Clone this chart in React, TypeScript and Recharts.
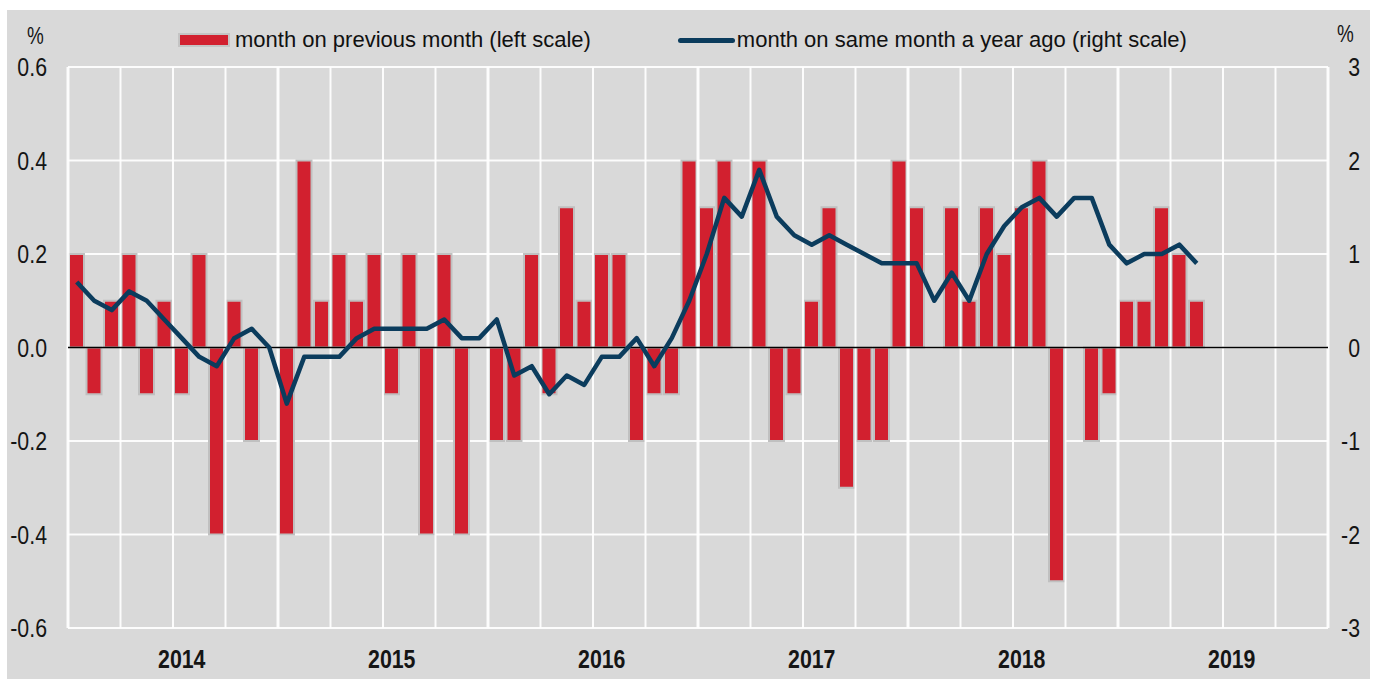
import {
  ComposedChart,
  Bar,
  Line,
  XAxis,
  YAxis,
  CartesianGrid,
  ReferenceLine,
  Legend,
} from 'recharts';

const years = ['2014', '2015', '2016', '2017', '2018', '2019'];
const monthNames = ['Jan', 'Feb', 'Mar', 'Apr', 'May', 'Jun', 'Jul', 'Aug', 'Sep', 'Oct', 'Nov', 'Dec'];

// month on previous month, % (left scale), Jan 2014 - May 2019
const monthOnMonth = [
  0.2, -0.1, 0.1, 0.2, -0.1, 0.1, -0.1, 0.2, -0.4, 0.1, -0.2, 0,
  -0.4, 0.4, 0.1, 0.2, 0.1, 0.2, -0.1, 0.2, -0.4, 0.2, -0.4, 0,
  -0.2, -0.2, 0.2, -0.1, 0.3, 0.1, 0.2, 0.2, -0.2, -0.1, -0.1, 0.4,
  0.3, 0.4, 0, 0.4, -0.2, -0.1, 0.1, 0.3, -0.3, -0.2, -0.2, 0.4,
  0.3, 0, 0.3, 0.1, 0.3, 0.2, 0.3, 0.4, -0.5, 0, -0.2, -0.1,
  0.1, 0.1, 0.3, 0.2, 0.1,
];

// month on same month a year ago, % (right scale)
const yearOnYear = [
  0.7, 0.5, 0.4, 0.6, 0.5, 0.3, 0.1, -0.1, -0.2, 0.1, 0.2, 0.0,
  -0.6, -0.1, -0.1, -0.1, 0.1, 0.2, 0.2, 0.2, 0.2, 0.3, 0.1, 0.1,
  0.3, -0.3, -0.2, -0.5, -0.3, -0.4, -0.1, -0.1, 0.1, -0.2, 0.1, 0.5,
  1.0, 1.6, 1.4, 1.9, 1.4, 1.2, 1.1, 1.2, 1.1, 1.0, 0.9, 0.9,
  0.9, 0.5, 0.8, 0.5, 1.0, 1.3, 1.5, 1.6, 1.4, 1.6, 1.6, 1.1,
  0.9, 1.0, 1.0, 1.1, 0.9,
];

const leftTicks = [-0.6, -0.4, -0.2, 0, 0.2, 0.4, 0.6];
const rightTicks = [-3, -2, -1, 0, 1, 2, 3];

const data = years.flatMap((y, yi) =>
  monthNames.map((m, mi) => {
    const i = yi * 12 + mi;
    return {
      month: `${m} ${y}`,
      mom: i < monthOnMonth.length ? monthOnMonth[i] : null,
      yoy: i < yearOnYear.length ? yearOnYear[i] : null,
    };
  })
);

// quarter starts get a white grid line, year starts a thicker one
const quarterStarts = data.filter((_, i) => i % 3 === 0).map((d) => d.month);
const lastMonth = data[data.length - 1].month;
// year label goes under July
const midYearTicks = data.filter((_, i) => i % 12 === 6).map((d) => d.month);

const RED = '#d2202f';
const NAVY = '#0b3c5d';
const SANS = '"Liberation Sans", Arial, sans-serif';
// no Arial Narrow here, so squeeze Liberation Sans instead
const SQUEEZE = 0.82;

function NarrowText({ x, y, anchor, dy, bold, children }: any) {
  return (
    <text
      transform={`translate(${x} ${y}) scale(${SQUEEZE} 1)`}
      dy={dy}
      textAnchor={anchor}
      fontFamily={SANS}
      fontSize={26}
      fontWeight={bold ? 700 : 400}
      fill="#151515"
    >
      {children}
    </text>
  );
}

function YearTick(props: any) {
  const { x, y, payload } = props;
  const year = String(payload.value).split(' ')[1];
  return <NarrowText x={x} y={y} dy="0.71em" anchor="middle" bold>{year}</NarrowText>;
}

function LeftTick(props: any) {
  const { x, y, payload } = props;
  return <NarrowText x={x} y={y} dy="0.355em" anchor="end">{Number(payload.value).toFixed(1)}</NarrowText>;
}

function RightTick(props: any) {
  const { x, y, payload } = props;
  return <NarrowText x={x + 24} y={y} dy="0.355em" anchor="end">{payload.value}</NarrowText>;
}

function LegendContent() {
  return (
    <div style={{ display: 'flex', alignItems: 'center', fontFamily: SANS, fontSize: 22, color: '#111', paddingLeft: 178 }}>
      <span style={{ display: 'inline-block', width: 48, height: 10, background: RED, border: '2px solid #c4c4c4' }} />
      <span style={{ marginLeft: 5 }}>month on previous month (left scale)</span>
      <span style={{ display: 'inline-block', width: 57, height: 5, background: NAVY, borderRadius: 2.5, marginLeft: 87 }} />
      <span style={{ marginLeft: 2 }}>month on same month a year ago (right scale)</span>
    </div>
  );
}

const pctStyle = {
  position: 'absolute' as const,
  fontFamily: SANS,
  fontSize: 23,
  lineHeight: '23px',
  color: '#151515',
  transform: `scaleX(${SQUEEZE})`,
  transformOrigin: 'left top',
};

export default function App() {
  return (
    <div style={{ position: 'absolute', left: 0, top: 0, width: 1381, height: 679, background: '#fff', overflow: 'hidden' }}>
      <div style={{ position: 'absolute', left: 7, top: 10, width: 1363, height: 669, background: '#d9d9d9' }} />
      <div style={{ ...pctStyle, left: 27, top: 25 }}>%</div>
      <div style={{ ...pctStyle, left: 1337, top: 23 }}>%</div>
      <div style={{ position: 'absolute', left: 0, top: 0 }}>
        <ComposedChart width={1381} height={679} data={data} margin={{ top: 67, right: 0, bottom: 0, left: 0 }}>
          <CartesianGrid yAxisId="left" vertical={false} stroke="#ffffff" strokeWidth={2} strokeOpacity={0.9} />
          <XAxis
            dataKey="month"
            type="category"
            ticks={midYearTicks}
            interval={0}
            axisLine={false}
            tickLine={false}
            tickMargin={16}
            height={51}
            tick={YearTick}
          />
          <YAxis
            yAxisId="left"
            domain={[-0.6, 0.6]}
            ticks={leftTicks}
            axisLine={false}
            tickLine={false}
            tickMargin={15}
            width={68}
            tick={LeftTick}
          />
          <YAxis
            yAxisId="right"
            orientation="right"
            domain={[-3, 3]}
            ticks={rightTicks}
            axisLine={false}
            tickLine={false}
            width={53}
            tick={RightTick}
          />
          {quarterStarts.map((m, i) => (
            <ReferenceLine
              key={m}
              yAxisId="left"
              x={m}
              position="start"
              stroke="#ffffff"
              strokeWidth={i % 4 === 0 ? 3 : 2}
              strokeOpacity={0.9}
            />
          ))}
          <ReferenceLine yAxisId="left" x={lastMonth} position="end" stroke="#ffffff" strokeWidth={3} strokeOpacity={0.9} />
          <Bar
            yAxisId="left"
            dataKey="mom"
            name="month on previous month (left scale)"
            fill={RED}
            stroke="#c0c0c0"
            strokeWidth={2}
            barSize={15}
            isAnimationActive={false}
          />
          <ReferenceLine yAxisId="left" y={0} stroke="#000" strokeWidth={1.5} />
          <Line
            yAxisId="right"
            type="linear"
            dataKey="yoy"
            name="month on same month a year ago (right scale)"
            stroke={NAVY}
            strokeWidth={4.5}
            strokeLinejoin="round"
            dot={false}
            isAnimationActive={false}
          />
          <Legend
            layout="horizontal"
            verticalAlign="middle"
            align="center"
            content={<LegendContent />}
            wrapperStyle={{ top: 27, left: 0, width: 1381 }}
          />
        </ComposedChart>
      </div>
    </div>
  );
}
